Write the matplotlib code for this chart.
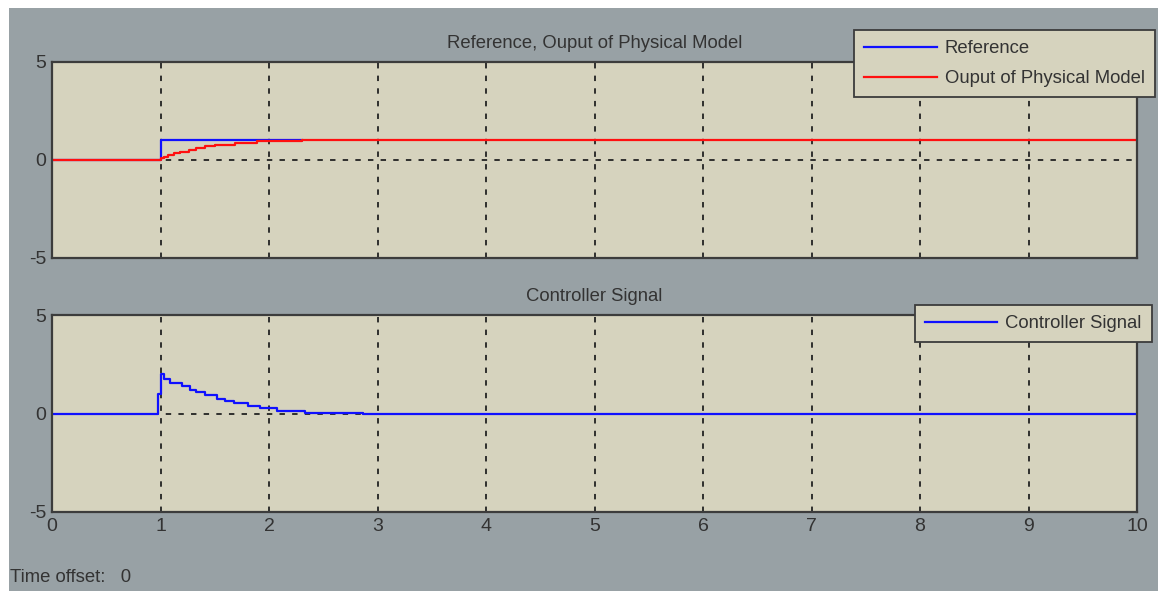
"""Simulink-style scope: reference / plant output and controller signal."""
import matplotlib.pyplot as plt
from matplotlib.patches import Rectangle

# step samples (value holds until next time)
ref_t = [0, 1.0, 2.30]
ref_v = [0, 1.0, 1.0]

out_t = [0, 1.00, 1.03, 1.07, 1.12, 1.18, 1.26, 1.33, 1.41, 1.50, 1.69, 1.89, 2.30, 10]
out_v = [0, 0.09, 0.17, 0.26, 0.34, 0.43, 0.52, 0.60, 0.69, 0.78, 0.86, 0.95, 1.0, 1.0]

ctrl_t = [0, 0.98, 1.00, 1.03, 1.09, 1.20, 1.27, 1.33, 1.41, 1.52, 1.59, 1.68,
          1.81, 1.92, 2.07, 2.33, 2.87, 10]
ctrl_v = [0, 1.0, 2.0, 1.74, 1.57, 1.40, 1.18, 1.07, 0.93, 0.76, 0.64, 0.51,
          0.39, 0.27, 0.14, 0.05, 0.0, 0.0]

x_ticks = list(range(0, 11))
y_ticks = [-5, 0, 5]

FIG_BG = "#98a1a5"
AX_BG = "#d6d3be"
TXT = "#333333"
FONT = "Liberation Sans"
FS = 13.3

plt.rcParams["axes.unicode_minus"] = False

W, H = 1158, 591
fig = plt.figure(figsize=(W / 100, H / 100), dpi=100, facecolor="white")
fig.patches.append(Rectangle((9 / W, 0), 1, 1 - 8 / H, transform=fig.transFigure,
                             facecolor=FIG_BG, edgecolor="none", zorder=-10))

ax1 = fig.add_axes([52 / W, 1 - 258 / H, 1085 / W, 196 / H])
ax2 = fig.add_axes([52 / W, 1 - 512 / H, 1085 / W, 197 / H])


def style(ax, title, show_x):
    ax.set_facecolor(AX_BG)
    ax.set_xlim(0, 10)
    ax.set_ylim(-5, 5)
    ax.set_xticks(x_ticks)
    ax.set_yticks(y_ticks)
    ax.grid(True, color="#222222", linestyle=(0, (3, 4)), linewidth=1.3)
    ax.tick_params(direction="in", length=0, labelsize=14, colors=TXT, pad=4)
    for lab in ax.get_xticklabels() + ax.get_yticklabels():
        lab.set_family(FONT)
    if not show_x:
        ax.set_xticklabels([])
    for sp in ax.spines.values():
        sp.set_color("#3c3c3c")
        sp.set_linewidth(1.6)
    ax.set_title(title, fontsize=FS, family=FONT, color=TXT, pad=10)


style(ax1, "Reference, Ouput of Physical Model", False)
style(ax2, "Controller Signal", True)

ax1.plot(ref_t, ref_v, drawstyle="steps-post", color="#1010ff", lw=1.6, label="Reference")
ax1.plot(out_t, out_v, drawstyle="steps-post", color="#ff1010", lw=1.6,
         label="Ouput of Physical Model")
ax2.plot(ctrl_t, ctrl_v, drawstyle="steps-post", color="#1010ff", lw=1.6,
         label="Controller Signal")

for ax, anchor in [(ax1, (1155 / W, 1 - 30 / H)), (ax2, (1152 / W, 1 - 305 / H))]:
    leg = ax.legend(loc="upper right", bbox_to_anchor=anchor,
                    bbox_transform=fig.transFigure, fancybox=False,
                    prop={"family": FONT, "size": FS}, handlelength=3.9,
                    borderpad=0.55, labelspacing=0.7, handletextpad=0.45,
                    borderaxespad=0)
    leg.get_frame().set_facecolor(AX_BG)
    leg.get_frame().set_edgecolor("#3c3c3c")
    leg.get_frame().set_linewidth(1.3)
    leg.get_frame().set_alpha(1)
    for t in leg.get_texts():
        t.set_color(TXT)
    leg.set_zorder(20)

fig.text(10 / W, 1 - 578 / H, "Time offset:   0", fontsize=FS, family=FONT,
         color=TXT, va="center", ha="left")

fig.savefig("out.png", dpi=100, facecolor=fig.get_facecolor())
